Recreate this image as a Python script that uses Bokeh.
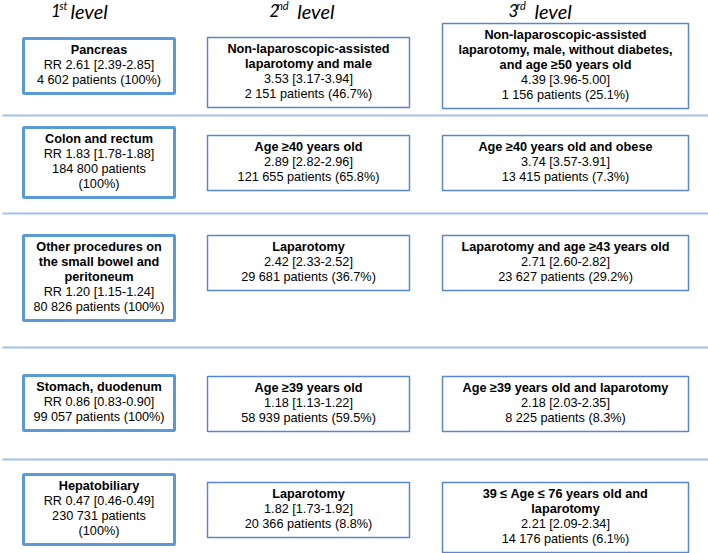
from bokeh.plotting import figure
from bokeh.models import Range1d
from bokeh.embed import file_html
from bokeh.resources import INLINE
from bokeh.core.properties import value

# ---------------- data ----------------
level_numbers = ["1", "2", "3"]
level_suffixes = ["st", "nd", "rd"]

l1_names = ["Pancreas", "Colon and rectum",
            "Other procedures on\nthe small bowel and\nperitoneum",
            "Stomach, duodenum", "Hepatobiliary"]
l1_rr = [2.61, 1.83, 1.20, 0.86, 0.47]
l1_lo = [2.39, 1.78, 1.15, 0.83, 0.46]
l1_hi = [2.85, 1.88, 1.24, 0.90, 0.49]
l1_n = [4602, 184800, 80826, 99057, 230731]
l1_pct = [100, 100, 100, 100, 100]

l2_names = ["Non-laparoscopic-assisted\nlaparotomy and male", "Age \u226540 years old",
            "Laparotomy", "Age \u226539 years old", "Laparotomy"]
l2_rr = [3.53, 2.89, 2.42, 1.18, 1.82]
l2_lo = [3.17, 2.82, 2.33, 1.13, 1.73]
l2_hi = [3.94, 2.96, 2.52, 1.22, 1.92]
l2_n = [2151, 121655, 29681, 58939, 20366]
l2_pct = [46.7, 65.8, 36.7, 59.5, 8.8]

l3_names = ["Non-laparoscopic-assisted\nlaparotomy, male, without diabetes,\nand age \u226550 years old",
            "Age \u226540 years old and obese",
            "Laparotomy and age \u226543 years old",
            "Age \u226539 years old and laparotomy",
            "39 \u2264 Age \u2264 76 years old and\nlaparotomy"]
l3_rr = [4.39, 3.74, 2.71, 2.18, 2.21]
l3_lo = [3.96, 3.57, 2.60, 2.03, 2.09]
l3_hi = [5.00, 3.91, 2.82, 2.35, 2.34]
l3_n = [1156, 13415, 23627, 8225, 14176]
l3_pct = [25.1, 7.3, 29.2, 8.3, 6.1]

# ---------------- layout (pixel space) ----------------
W, H = 708, 553
col_x = [(23, 174), (207, 409), (442, 688)]
col_tops = [[38, 127, 235, 375, 474],
            [37, 135, 235, 376, 482],
            [23, 135, 235, 376, 482]]
l1_wrap = [False, True, False, False, True]
sep_y = [115, 213, 347, 459]
header_x = [(50.6, 58.7, 70), (269, 276.4, 296.7), (508, 516, 534)]
LINE = 15.0
FIRST = 17.0
PAD = 8.0
TXT_DY = -5.5

FONT = value("Liberation Sans")


def fmt_n(n):
    return f"{n:,}".replace(",", " ")


p = figure(width=W, height=H, x_range=Range1d(0, W), y_range=Range1d(H, 0),
           output_backend="svg", toolbar_location=None, min_border=0,
           x_axis_location=None, y_axis_location=None)
p.grid.visible = False
p.outline_line_color = None
p.background_fill_color = "white"
p.border_fill_color = "white"
p.margin = (0, 0, 0, 0)

# separators
p.segment(x0=[2] * len(sep_y), x1=[W] * len(sep_y), y0=sep_y, y1=sep_y,
          line_color="#A3C0EA", line_width=2)

levels = [
    (l1_names, l1_rr, l1_lo, l1_hi, l1_n, l1_pct),
    (l2_names, l2_rr, l2_lo, l2_hi, l2_n, l2_pct),
    (l3_names, l3_rr, l3_lo, l3_hi, l3_n, l3_pct),
]

for c, (names, rr, lo, hi, nn, pct) in enumerate(levels):
    xl, xr = col_x[c]
    xc = (xl + xr) / 2
    lefts, rights, tops, bottoms = [], [], [], []
    bx, by, bt = [], [], []
    rx, ry, rt = [], [], []
    for r in range(len(names)):
        bold_lines = names[r].split("\n")
        if c == 0:
            stat = f"RR {rr[r]:.2f} [{lo[r]:.2f}-{hi[r]:.2f}]"
            pct_s = f"({pct[r]}%)"
        else:
            stat = f"{rr[r]:.2f} [{lo[r]:.2f}-{hi[r]:.2f}]"
            pct_s = f"({pct[r]:.1f}%)"
        if c == 0 and l1_wrap[r]:
            reg_lines = [stat, f"{fmt_n(nn[r])} patients", pct_s]
        else:
            reg_lines = [stat, f"{fmt_n(nn[r])} patients {pct_s}"]
        top = col_tops[c][r]
        k = 0
        for t in bold_lines:
            bx.append(xc); by.append(top + FIRST + k * LINE + TXT_DY); bt.append(t); k += 1
        for t in reg_lines:
            rx.append(xc); ry.append(top + FIRST + k * LINE + TXT_DY); rt.append(t); k += 1
        lefts.append(xl); rights.append(xr); tops.append(top)
        bottoms.append(top + FIRST + (k - 1) * LINE + PAD)
    if c == 0:
        p.quad(left=lefts, right=rights, top=tops, bottom=bottoms,
               fill_color="white", line_color="#5B9BD5", line_width=3)
    else:
        p.quad(left=lefts, right=rights, top=tops, bottom=bottoms,
               fill_color="white", line_color="#5A86CC", line_width=1.5)
    p.text(x=bx, y=by, text=bt, text_font=FONT, text_font_size="12.7px",
           text_font_style="bold", text_align="center", text_baseline="alphabetic",
           text_color="#000000")
    p.text(x=rx, y=ry, text=rt, text_font=FONT, text_font_size="12.7px",
           text_align="center", text_baseline="alphabetic", text_color="#000000")

# headers
HF = value("Lato")
p.text(x=[h[0] for h in header_x], y=[15.5 + TXT_DY] * 3, text=level_numbers, text_font=HF,
       text_font_size="17px", text_font_style="italic", text_align="left",
       text_baseline="alphabetic", text_color="#000000")
p.text(x=[h[1] for h in header_x], y=[10 + TXT_DY] * 3, text=level_suffixes, text_font=HF,
       text_font_size="11px", text_font_style="italic", text_align="left",
       text_baseline="alphabetic", text_color="#000000")
p.text(x=[h[2] for h in header_x], y=[15.5 + TXT_DY] * 3, text=["level"] * 3, text_font=HF,
       text_font_size="20px", text_font_style="italic", text_align="left",
       text_baseline="alphabetic", text_color="#000000")

open("out.html", "w").write(file_html(p, INLINE))
